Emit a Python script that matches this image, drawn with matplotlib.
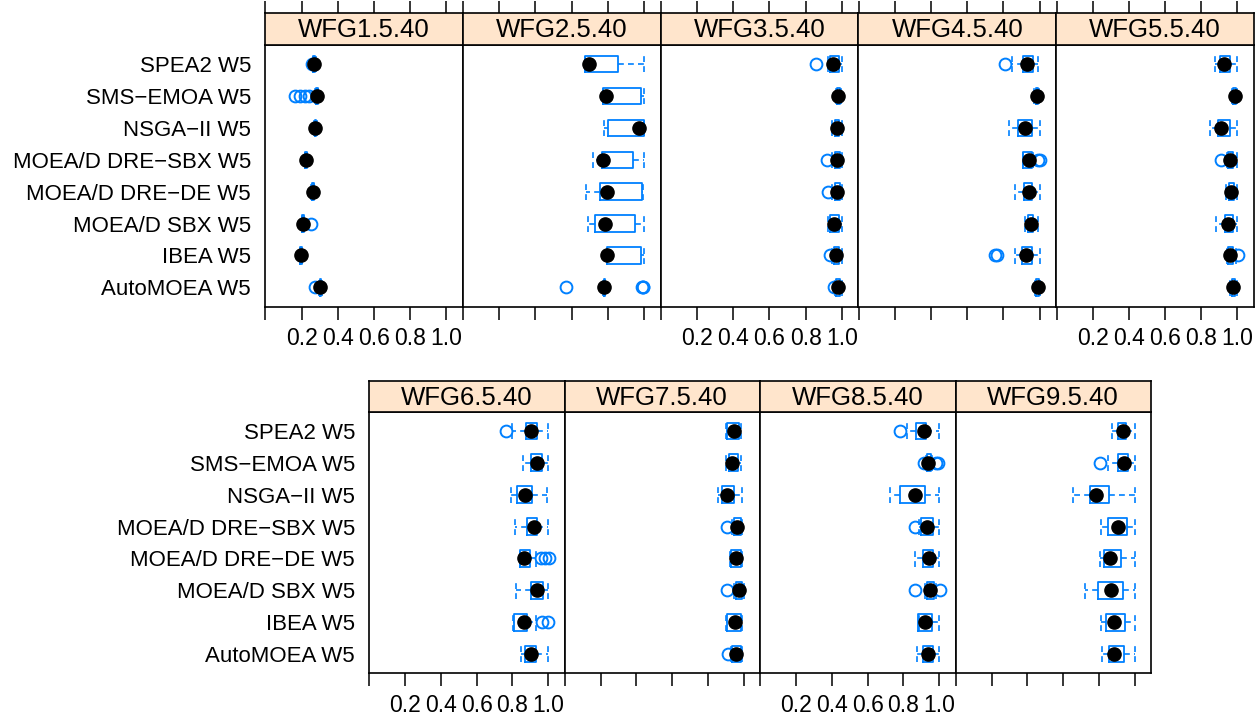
import numpy as np
import matplotlib.pyplot as plt

plt.rcParams['font.family'] = ['Liberation Sans', 'DejaVu Sans']

# Algorithms, listed top to bottom as they appear in each panel
algorithms = ["SPEA2 W5", "SMS\u2212EMOA W5", "NSGA\u2212II W5", "MOEA/D DRE\u2212SBX W5",
              "MOEA/D DRE\u2212DE W5", "MOEA/D SBX W5", "IBEA W5", "AutoMOEA W5"]

problems = ["WFG1.5.40", "WFG2.5.40", "WFG3.5.40", "WFG4.5.40", "WFG5.5.40",
            "WFG6.5.40", "WFG7.5.40", "WFG8.5.40", "WFG9.5.40"]

# Box statistics per problem (rows) and algorithm (columns, same order as above)
whisk_lo = [
    [0.262, 0.277, 0.268, 0.217, 0.255, 0.200, 0.189, 0.296],
    [0.673, 0.775, 0.780, 0.716, 0.679, 0.688, 0.793, 0.776],
    [0.926, 0.970, 0.945, 0.945, 0.945, 0.922, 0.944, 0.960],
    [0.846, 0.970, 0.833, 0.907, 0.865, 0.920, 0.865, 0.975],
    [0.874, 0.970, 0.850, 0.943, 0.939, 0.880, 0.943, 0.960],
    [0.800, 0.862, 0.794, 0.813, 0.843, 0.818, 0.806, 0.847],
    [0.901, 0.901, 0.858, 0.934, 0.925, 0.944, 0.901, 0.929],
    [0.822, 0.925, 0.728, 0.890, 0.863, 0.920, 0.886, 0.878],
    [0.872, 0.853, 0.656, 0.815, 0.806, 0.725, 0.815, 0.819],
]
q1 = [
    [0.266, 0.281, 0.272, 0.221, 0.259, 0.204, 0.193, 0.300],
    [0.673, 0.775, 0.803, 0.766, 0.756, 0.729, 0.793, 0.778],
    [0.935, 0.975, 0.960, 0.962, 0.965, 0.935, 0.955, 0.970],
    [0.907, 0.978, 0.878, 0.911, 0.915, 0.935, 0.902, 0.982],
    [0.902, 0.978, 0.895, 0.950, 0.952, 0.930, 0.950, 0.968],
    [0.875, 0.907, 0.828, 0.884, 0.843, 0.907, 0.812, 0.869],
    [0.910, 0.920, 0.882, 0.947, 0.929, 0.960, 0.910, 0.938],
    [0.872, 0.930, 0.779, 0.897, 0.910, 0.930, 0.882, 0.910],
    [0.909, 0.909, 0.750, 0.849, 0.830, 0.797, 0.840, 0.859],
]
medians = [
    [0.271, 0.285, 0.276, 0.225, 0.263, 0.208, 0.197, 0.304],
    [0.696, 0.788, 0.974, 0.775, 0.793, 0.784, 0.797, 0.780],
    [0.952, 0.981, 0.972, 0.972, 0.976, 0.959, 0.968, 0.981],
    [0.930, 0.985, 0.920, 0.939, 0.939, 0.952, 0.924, 0.989],
    [0.926, 0.985, 0.908, 0.961, 0.967, 0.948, 0.957, 0.976],
    [0.903, 0.936, 0.869, 0.921, 0.865, 0.940, 0.865, 0.903],
    [0.944, 0.938, 0.910, 0.962, 0.957, 0.976, 0.951, 0.957],
    [0.914, 0.938, 0.867, 0.934, 0.942, 0.947, 0.919, 0.938],
    [0.934, 0.943, 0.782, 0.906, 0.862, 0.868, 0.887, 0.887],
]
q3 = [
    [0.275, 0.289, 0.280, 0.229, 0.267, 0.212, 0.201, 0.308],
    [0.854, 0.983, 1.000, 0.941, 0.987, 0.950, 0.983, 0.784],
    [0.987, 0.990, 0.985, 0.990, 0.990, 0.985, 0.985, 0.990],
    [0.963, 0.990, 0.957, 0.957, 0.957, 0.965, 0.957, 0.995],
    [0.957, 0.992, 0.957, 0.975, 0.980, 0.976, 0.975, 0.985],
    [0.940, 0.968, 0.912, 0.940, 0.899, 0.974, 0.884, 0.931],
    [0.976, 0.970, 0.947, 0.985, 0.985, 0.990, 0.985, 0.985],
    [0.929, 0.957, 0.923, 0.966, 0.966, 0.970, 0.961, 0.966],
    [0.951, 0.966, 0.859, 0.956, 0.923, 0.934, 0.947, 0.943],
]
whisk_hi = [
    [0.279, 0.293, 0.284, 0.233, 0.271, 0.216, 0.205, 0.312],
    [1.000, 1.000, 1.000, 1.000, 0.996, 1.000, 1.000, 0.786],
    [1.000, 0.998, 1.000, 1.000, 1.000, 1.000, 1.000, 1.000],
    [0.994, 0.998, 1.000, 0.963, 1.000, 0.989, 1.000, 1.000],
    [0.998, 0.998, 0.998, 0.998, 0.998, 0.998, 0.990, 0.998],
    [1.000, 1.000, 0.996, 1.000, 0.930, 1.000, 0.930, 1.000],
    [0.985, 0.985, 0.994, 0.994, 0.994, 1.000, 0.994, 0.994],
    [1.000, 0.962, 1.000, 1.000, 1.000, 0.985, 1.000, 1.000],
    [1.000, 1.000, 1.000, 1.000, 1.000, 1.000, 1.000, 1.000],
]
outliers = [
    [[0.258], [0.166, 0.193, 0.221, 0.239], [], [], [], [0.254], [], [0.276]],
    [[], [], [], [], [], [], [], [0.568, 0.990, 0.993, 0.996]],
    [[0.857], [], [], [0.917], [0.926], [], [0.935], [0.959]],
    [[0.809], [], [], [0.994, 1.004], [], [], [0.754, 0.767], []],
    [[], [], [], [0.911], [], [], [1.004], []],
    [[0.766], [], [], [], [0.959, 0.981, 1.005], [], [0.968, 0.997], []],
    [[], [], [], [0.910], [], [0.910], [], [0.914]],
    [[0.779], [0.915, 0.985, 0.995], [], [0.863], [], [0.867, 1.004], [], []],
    [[], [0.806], [], [], [], [], [], []],
]

# layout in pixels: left edge, panel width, strip top, panel top, panel bottom
W, H = 1256, 717
rows = [
    dict(idx=[0, 1, 2, 3, 4], left=265, width=197.8, strip_top=12.7, top=45, bottom=306.5, top_ticks=True),
    dict(idx=[5, 6, 7, 8], left=369, width=195.5, strip_top=380.7, top=411.7, bottom=673.3, top_ticks=False),
]

blue = '#0080ff'
dash = (0, (3.5, 2.5))
positions = np.arange(len(algorithms), 0, -1)
ticks = [0.0, 0.2, 0.4, 0.6, 0.8, 1.0]
tick_labels = ['', '0.2', '0.4', '0.6', '0.8', '1.0']
xlim = (-0.002, 1.092)

fig = plt.figure(figsize=(W / 100, H / 100), dpi=100)


def px_axes(x0, y0, x1, y1):
    return fig.add_axes([x0 / W, 1 - y1 / H, (x1 - x0) / W, (y1 - y0) / H])


for row in rows:
    for j, p in enumerate(row['idx']):
        x0 = row['left'] + j * row['width']
        x1 = x0 + row['width']
        ax = px_axes(x0, row['top'], x1, row['bottom'])

        stats = []
        for k in range(len(algorithms)):
            stats.append(dict(whislo=whisk_lo[p][k], q1=q1[p][k], med=medians[p][k],
                              q3=q3[p][k], whishi=whisk_hi[p][k], fliers=outliers[p][k]))
        ax.bxp(stats, positions=positions, orientation='horizontal', widths=0.52,
               capwidths=0.52, manage_ticks=False,
               boxprops=dict(color=blue, linewidth=1.3),
               whiskerprops=dict(color=blue, linewidth=1.2, linestyle=dash),
               capprops=dict(color=blue, linewidth=1.2, linestyle=dash),
               medianprops=dict(linewidth=0),
               flierprops=dict(marker='o', markerfacecolor='none', markeredgecolor=blue,
                               markersize=8.5, markeredgewidth=1.4, linestyle='none'))
        ax.plot(medians[p], positions, 'o', color='black', markersize=9.5, zorder=5)

        ax.set_xlim(xlim)
        ax.set_ylim(0.4, 8.6)
        ax.set_xticks(ticks)
        if j % 2 == 0:
            ax.set_xticklabels(tick_labels, fontsize=16.5)
        else:
            ax.set_xticklabels([])
        ax.tick_params(axis='x', direction='out', length=9, width=1.1, pad=6)
        if j == 0:
            ax.set_yticks(positions)
            ax.set_yticklabels(algorithms, fontsize=16)
            ax.tick_params(axis='y', length=0, pad=10)
        else:
            ax.set_yticks([])
        for s in ax.spines.values():
            s.set_linewidth(1.2)

        # strip with panel title
        sax = px_axes(x0, row['strip_top'], x1, row['top'])
        sax.set_facecolor('#ffe5cc')
        sax.set_xlim(xlim)
        sax.set_yticks([])
        if row['top_ticks']:
            sax.set_xticks(ticks)
            sax.xaxis.tick_top()
            sax.set_xticklabels([])
            sax.tick_params(axis='x', direction='out', length=9, width=1.1)
        else:
            sax.set_xticks([])
        for s in sax.spines.values():
            s.set_linewidth(1.2)
        sax.text(0.5, 0.45, problems[p], transform=sax.transAxes, ha='center',
                 va='center', fontsize=18.5)

fig.savefig('out.png', dpi=100)
